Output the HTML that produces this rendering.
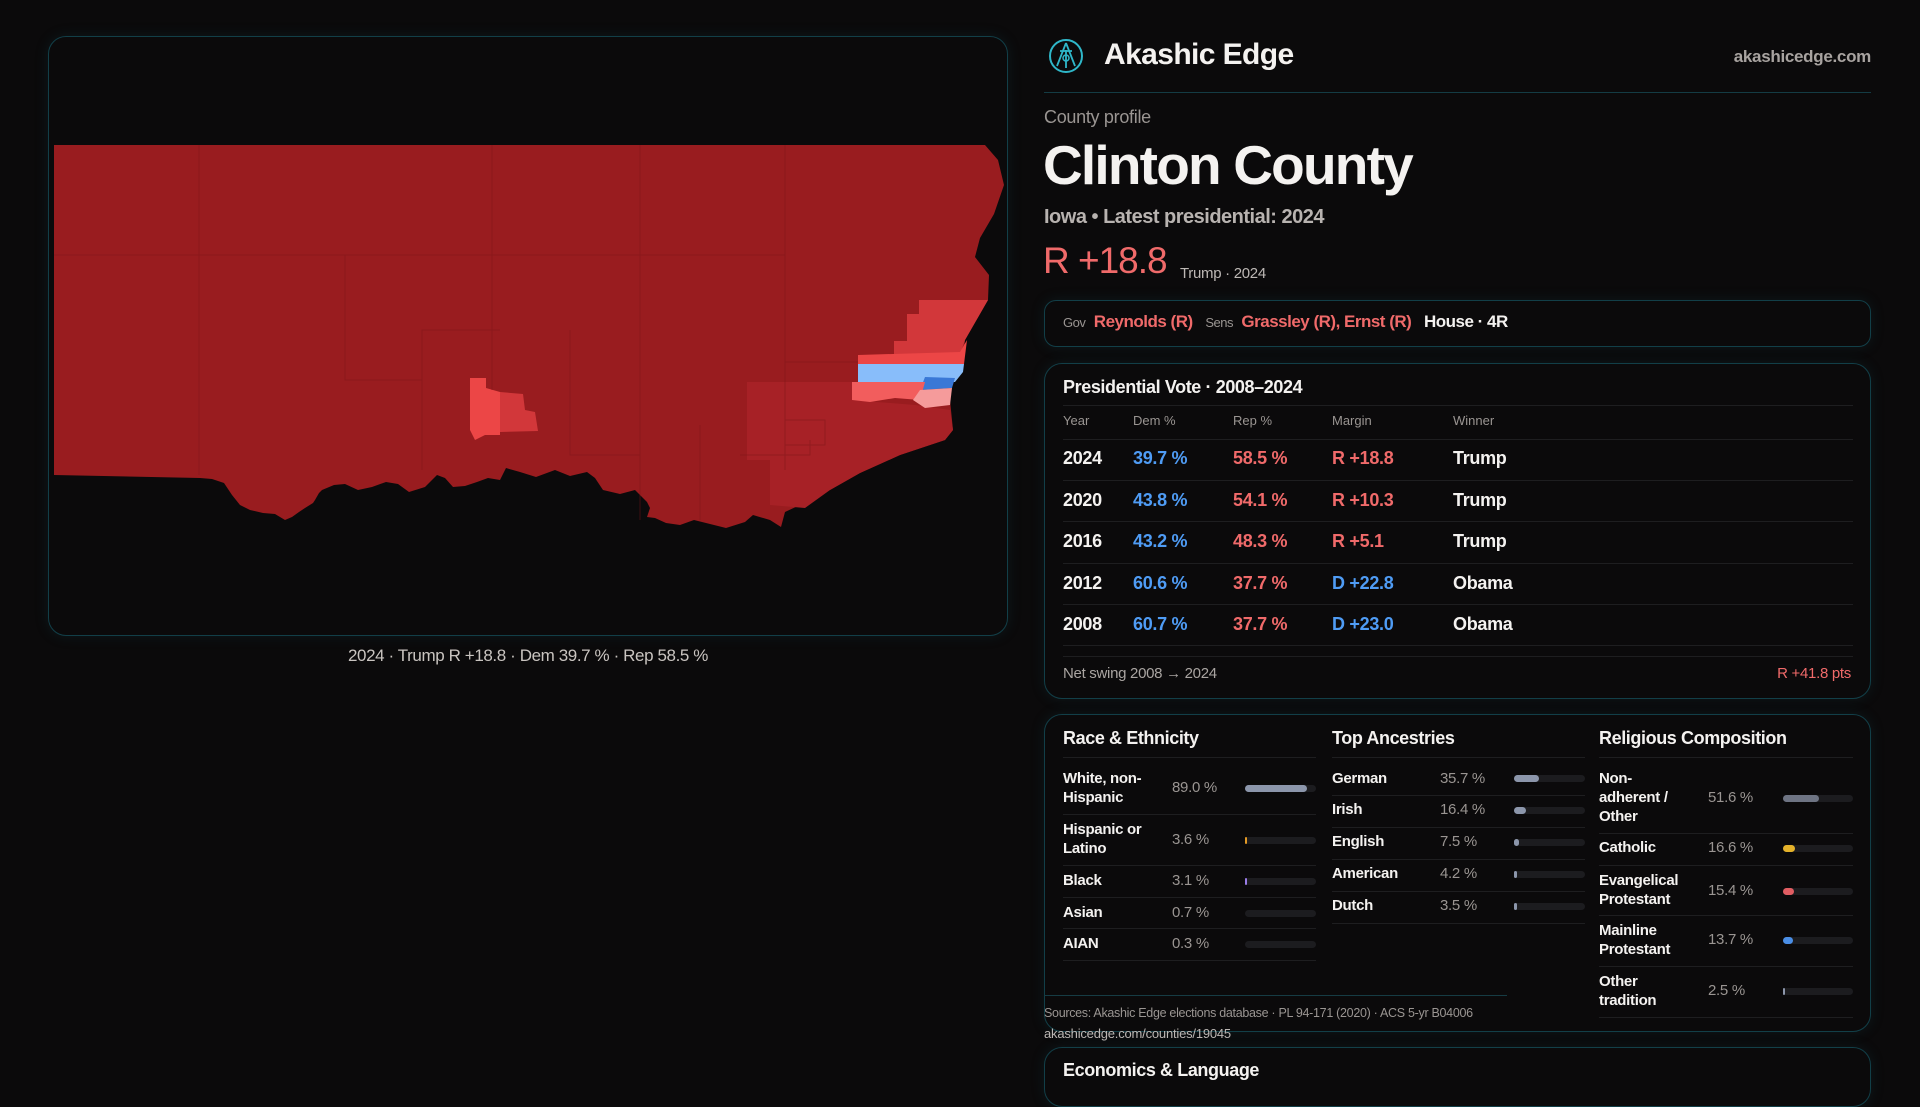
<!DOCTYPE html>
<html><head><meta charset="utf-8"><style>
*{margin:0;padding:0;box-sizing:border-box}
body{width:1920px;height:1080px;background:#0b0a0b;font-family:"Liberation Sans",sans-serif;color:#f4f2f0;position:relative;overflow:hidden}
.abs{position:absolute;white-space:nowrap}
.panel{position:absolute;border:1.5px solid #123f48;border-radius:18px;background:#0b0a0b;box-shadow:0 0 14px rgba(20,90,100,.18)}
.g{color:#9a9592}
.r{color:#f06a6a}
.b{color:#4f9cf5}
.hl{position:absolute;height:1px;background:#1e1e20}
.bar{position:absolute;height:7px;border-radius:4px;background:#1c1c1f}
.bar i{position:absolute;left:0;top:0;height:7px;border-radius:4px}
</style></head><body>
<div class="panel" style="left:48px;top:36px;width:960px;height:600px"></div>
<svg class="abs" style="left:0;top:0" width="1920" height="1080" viewBox="0 0 1920 1080">
<path fill="#991c1f" d="M54,145 L985,145 L998,160 L1004,185 L994,214 L980,238 L975,257 L989,275 L988,300 L965,340 L963,365 L952,385 L950,400 L953,430 L945,440 L900,455 L860,473 L830,490 L820,487 L800,505 L785,512 L781,527 L770,520 L753,515 L745,522 L726,528 L710,524 L694,520 L680,525 L666,523 L655,518 L647,517 L650,508 L647,502 L635,490 L620,494 L603,490 L595,478 L587,472 L570,476 L555,470 L536,477 L520,472 L506,468 L500,480 L488,478 L477,482 L465,486 L453,487 L445,478 L437,475 L425,487 L409,492 L398,484 L386,482 L372,487 L358,490 L345,484 L334,485 L322,490 L319,493 L315,500 L313,503 L305,508 L299,512 L292,517 L285,520 L275,514 L263,513 L250,510 L240,505 L232,495 L224,483 L212,479 L200,478 L54,475 Z"/>
<path fill="#a72126" d="M747,382 L852,382 L852,400 L915,405 L950,410 L953,430 L945,440 L900,455 L860,473 L830,490 L805,508 L770,505 L770,460 L747,460 Z"/>
<path fill="#d2373a" d="M919,300 L988,300 L965,340 L960,355 L894,355 L894,341 L907,341 L907,314 L919,314 Z"/>
<path fill="#ec4646" d="M858,355 L960,352 L967,340 L964,364 L858,364 Z"/>
<path fill="#88bdfa" d="M858,364 L964,364 L963,372 L955,382 L858,382 Z"/>
<path fill="#3a78d6" d="M925,377 L955,378 L952,388 L920,390 Z"/>
<path fill="#f25d5d" d="M852,382 L925,382 L920,400 L895,398 L870,402 L852,400 Z"/>
<path fill="#f59b9b" d="M920,390 L952,388 L950,405 L925,408 L913,400 Z"/>
<path fill="#ec4646" d="M470,378 L486,378 L486,388 L500,392 L500,435 L485,435 L475,440 L470,430 Z"/>
<path fill="#d2373a" d="M500,392 L523,394 L525,410 L535,412 L538,431 L500,432 Z"/>
<g stroke="#7a1418" stroke-width="1" fill="none" opacity=".45">
<path d="M199,145 V475"/><path d="M492,145 V390"/><path d="M640,145 V520"/><path d="M785,145 V470"/>
<path d="M54,255 H785"/><path d="M345,255 V380 H422 V330 H500"/><path d="M422,380 V470"/><path d="M570,330 V455 H640"/><path d="M785,362 H858"/>
<path d="M700,425 V520"/><path d="M740,455 H810 V440"/><path d="M785,420 V445 H825 V420 H785"/></g>
</svg>
<div class="abs" style="left:0;width:1056px;top:646px;text-align:center;font-size:17px;letter-spacing:-0.4px;color:#c9c4c0">2024 · Trump R +18.8 · Dem 39.7 % · Rep 58.5 %</div>

<svg class="abs" style="left:1048px;top:38px" width="36" height="36" viewBox="0 0 36 36"><circle cx="18" cy="18" r="16" fill="none" stroke="#2fb7c9" stroke-width="2"/><path d="M18,5 L9,28 M18,5 L27,28 M12,13 H24 M18,12 V30" stroke="#2fb7c9" stroke-width="1.8" fill="none"/><circle cx="18" cy="20" r="3" fill="none" stroke="#2fb7c9" stroke-width="1.5"/></svg>
<div class="abs" style="left:1104px;top:38px;font-size:30px;font-weight:bold;letter-spacing:-0.6px">Akashic Edge</div>
<div class="abs g" style="right:49px;top:47px;font-size:17px;font-weight:bold;color:#a8a3a0;letter-spacing:-0.3px">akashicedge.com</div>
<div class="hl" style="left:1044px;top:92px;width:827px;background:#143c44"></div>
<div class="abs g" style="left:1044px;top:107px;font-size:18px;letter-spacing:-0.3px">County profile</div>
<div class="abs" style="left:1043px;top:133px;font-size:55px;font-weight:bold;letter-spacing:-1.8px">Clinton County</div>
<div class="abs" style="left:1044px;top:206px;font-size:20px;color:#b8b3b0;font-weight:bold;letter-spacing:-0.5px">Iowa • Latest presidential: 2024</div>
<div class="abs r" style="left:1043px;top:240px;font-size:37px;letter-spacing:-1px">R +18.8</div>
<div class="abs" style="left:1180px;top:265px;font-size:15px;color:#bdb8b5;letter-spacing:-0.3px">Trump · 2024</div>

<div class="panel" style="left:1044px;top:300px;width:827px;height:47px;border-radius:12px"></div>
<div class="abs" style="left:1063px;top:312px;font-size:17px;letter-spacing:-0.5px"><span class="g" style="font-size:13px">Gov</span>&nbsp; <span class="r" style="font-weight:bold">Reynolds (R)</span> &nbsp; <span class="g" style="font-size:13px">Sens</span>&nbsp; <span class="r" style="font-weight:bold">Grassley (R), Ernst (R)</span> &nbsp; <b>House · 4R</b></div>

<div class="panel" style="left:1044px;top:363px;width:827px;height:336px"></div>
<div class="abs" style="left:1063px;top:377px;font-size:18px;font-weight:bold;letter-spacing:-0.4px">Presidential Vote · 2008–2024</div>
<div class="hl" style="left:1063px;top:405px;width:790px"></div>
<div class="abs g" style="left:1063px;top:413px;font-size:13px">Year</div>
<div class="abs g" style="left:1133px;top:413px;font-size:13px">Dem %</div>
<div class="abs g" style="left:1233px;top:413px;font-size:13px">Rep %</div>
<div class="abs g" style="left:1332px;top:413px;font-size:13px">Margin</div>
<div class="abs g" style="left:1453px;top:413px;font-size:13px">Winner</div>
<div class="hl" style="left:1063px;top:439px;width:790px"></div>
<div style="position:absolute;left:1063px;top:448px;font-size:18px;font-weight:bold;line-height:20px;letter-spacing:-0.3px">
<div style="position:relative;height:41.5px"><span class="abs" style="left:0">2024</span><span class="abs b" style="left:70px">39.7 %</span><span class="abs r" style="left:170px">58.5 %</span><span class="abs r" style="left:269px">R +18.8</span><span class="abs" style="left:390px">Trump</span></div>
<div style="position:relative;height:41.5px"><span class="abs" style="left:0">2020</span><span class="abs b" style="left:70px">43.8 %</span><span class="abs r" style="left:170px">54.1 %</span><span class="abs r" style="left:269px">R +10.3</span><span class="abs" style="left:390px">Trump</span></div>
<div style="position:relative;height:41.5px"><span class="abs" style="left:0">2016</span><span class="abs b" style="left:70px">43.2 %</span><span class="abs r" style="left:170px">48.3 %</span><span class="abs r" style="left:269px">R +5.1</span><span class="abs" style="left:390px">Trump</span></div>
<div style="position:relative;height:41.5px"><span class="abs" style="left:0">2012</span><span class="abs b" style="left:70px">60.6 %</span><span class="abs r" style="left:170px">37.7 %</span><span class="abs b" style="left:269px">D +22.8</span><span class="abs" style="left:390px">Obama</span></div>
<div style="position:relative;height:41.5px"><span class="abs" style="left:0">2008</span><span class="abs b" style="left:70px">60.7 %</span><span class="abs r" style="left:170px">37.7 %</span><span class="abs b" style="left:269px">D +23.0</span><span class="abs" style="left:390px">Obama</span></div>
</div>
<div class="hl" style="left:1063px;top:480px;width:790px"></div>
<div class="hl" style="left:1063px;top:521px;width:790px"></div>
<div class="hl" style="left:1063px;top:563px;width:790px"></div>
<div class="hl" style="left:1063px;top:604px;width:790px"></div>
<div class="hl" style="left:1063px;top:645px;width:790px"></div>
<div class="hl" style="left:1063px;top:656px;width:790px"></div>
<div class="abs g" style="left:1063px;top:665px;font-size:15px;color:#aaa5a2;letter-spacing:-0.3px">Net swing 2008 → 2024</div>
<div class="abs r" style="right:69px;top:665px;font-size:15px;letter-spacing:-0.3px">R +41.8 pts</div>

<div class="panel" style="left:1044px;top:714px;width:827px;height:318px"></div>
<div class="abs" style="left:1063px;top:728px;font-size:18px;font-weight:bold;letter-spacing:-0.4px">Race &amp; Ethnicity</div>
<div class="abs" style="left:1332px;top:728px;font-size:18px;font-weight:bold;letter-spacing:-0.4px">Top Ancestries</div>
<div class="abs" style="left:1599px;top:728px;font-size:18px;font-weight:bold;letter-spacing:-0.4px">Religious Composition</div>
<div class="hl" style="left:1063px;top:757px;width:253px"></div>
<div class="hl" style="left:1332px;top:757px;width:253px"></div>
<div class="hl" style="left:1599px;top:757px;width:254px"></div>
<div style="font-size:15px;font-weight:bold;line-height:19px;letter-spacing:-0.3px">
<div class="abs" style="left:1063px;top:769px">White, non-<br>Hispanic</div><div class="abs g" style="left:1172px;top:778px;font-weight:normal">89.0 %</div><div class="bar" style="left:1245px;top:785px;width:71px"><i style="width:62px;background:#8c96ab"></i></div>
<div class="hl" style="left:1063px;top:814px;width:253px"></div>
<div class="abs" style="left:1063px;top:820px">Hispanic or<br>Latino</div><div class="abs g" style="left:1172px;top:830px;font-weight:normal">3.6 %</div><div class="bar" style="left:1245px;top:837px;width:71px"><i style="width:2px;background:#e49a25"></i></div>
<div class="hl" style="left:1063px;top:865px;width:253px"></div>
<div class="abs" style="left:1063px;top:871px">Black</div><div class="abs g" style="left:1172px;top:871px;font-weight:normal">3.1 %</div><div class="bar" style="left:1245px;top:878px;width:71px"><i style="width:2px;background:#9a7de8"></i></div>
<div class="hl" style="left:1063px;top:897px;width:253px"></div>
<div class="abs" style="left:1063px;top:903px">Asian</div><div class="abs g" style="left:1172px;top:903px;font-weight:normal">0.7 %</div><div class="bar" style="left:1245px;top:910px;width:71px"></div>
<div class="hl" style="left:1063px;top:928px;width:253px"></div>
<div class="abs" style="left:1063px;top:934px">AIAN</div><div class="abs g" style="left:1172px;top:934px;font-weight:normal">0.3 %</div><div class="bar" style="left:1245px;top:941px;width:71px"></div>
<div class="hl" style="left:1063px;top:960px;width:253px"></div>

<div class="abs" style="left:1332px;top:769px">German</div><div class="abs g" style="left:1440px;top:769px;font-weight:normal">35.7 %</div><div class="bar" style="left:1514px;top:775px;width:71px"><i style="width:25px;background:#8c96ab"></i></div>
<div class="hl" style="left:1332px;top:795px;width:253px"></div>
<div class="abs" style="left:1332px;top:800px">Irish</div><div class="abs g" style="left:1440px;top:800px;font-weight:normal">16.4 %</div><div class="bar" style="left:1514px;top:807px;width:71px"><i style="width:12px;background:#8c96ab"></i></div>
<div class="hl" style="left:1332px;top:827px;width:253px"></div>
<div class="abs" style="left:1332px;top:832px">English</div><div class="abs g" style="left:1440px;top:832px;font-weight:normal">7.5 %</div><div class="bar" style="left:1514px;top:839px;width:71px"><i style="width:5px;background:#8c96ab"></i></div>
<div class="hl" style="left:1332px;top:859px;width:253px"></div>
<div class="abs" style="left:1332px;top:864px">American</div><div class="abs g" style="left:1440px;top:864px;font-weight:normal">4.2 %</div><div class="bar" style="left:1514px;top:871px;width:71px"><i style="width:3px;background:#8c96ab"></i></div>
<div class="hl" style="left:1332px;top:891px;width:253px"></div>
<div class="abs" style="left:1332px;top:896px">Dutch</div><div class="abs g" style="left:1440px;top:896px;font-weight:normal">3.5 %</div><div class="bar" style="left:1514px;top:903px;width:71px"><i style="width:3px;background:#8c96ab"></i></div>
<div class="hl" style="left:1332px;top:923px;width:253px"></div>

<div class="abs" style="left:1599px;top:769px">Non-<br>adherent /<br>Other</div><div class="abs g" style="left:1708px;top:788px;font-weight:normal">51.6 %</div><div class="bar" style="left:1783px;top:795px;width:70px"><i style="width:36px;background:#6e7483"></i></div>
<div class="hl" style="left:1599px;top:833px;width:254px"></div>
<div class="abs" style="left:1599px;top:838px">Catholic</div><div class="abs g" style="left:1708px;top:838px;font-weight:normal">16.6 %</div><div class="bar" style="left:1783px;top:845px;width:70px"><i style="width:12px;background:#e4b22a"></i></div>
<div class="hl" style="left:1599px;top:865px;width:254px"></div>
<div class="abs" style="left:1599px;top:871px">Evangelical<br>Protestant</div><div class="abs g" style="left:1708px;top:881px;font-weight:normal">15.4 %</div><div class="bar" style="left:1783px;top:888px;width:70px"><i style="width:11px;background:#e05d62"></i></div>
<div class="hl" style="left:1599px;top:915px;width:254px"></div>
<div class="abs" style="left:1599px;top:921px">Mainline<br>Protestant</div><div class="abs g" style="left:1708px;top:930px;font-weight:normal">13.7 %</div><div class="bar" style="left:1783px;top:937px;width:70px"><i style="width:10px;background:#4a8ee6"></i></div>
<div class="hl" style="left:1599px;top:966px;width:254px"></div>
<div class="abs" style="left:1599px;top:972px">Other<br>tradition</div><div class="abs g" style="left:1708px;top:981px;font-weight:normal">2.5 %</div><div class="bar" style="left:1783px;top:988px;width:70px"><i style="width:2px;background:#8c96ab"></i></div>
<div class="hl" style="left:1599px;top:1017px;width:254px"></div>
</div>
<div class="hl" style="left:1044px;top:995px;width:463px;background:#163c44"></div>
<div class="abs g" style="left:1044px;top:1006px;font-size:12.5px;letter-spacing:-0.3px">Sources: Akashic Edge elections database · PL 94-171 (2020) · ACS 5-yr B04006</div>
<div class="abs" style="left:1044px;top:1026px;font-size:13px;color:#bdb8b5;letter-spacing:-0.2px">akashicedge.com/counties/19045</div>
<div class="panel" style="left:1044px;top:1047px;width:827px;height:60px"></div>
<div class="abs" style="left:1063px;top:1060px;font-size:18px;font-weight:bold;letter-spacing:-0.4px">Economics &amp; Language</div>
</body></html>
